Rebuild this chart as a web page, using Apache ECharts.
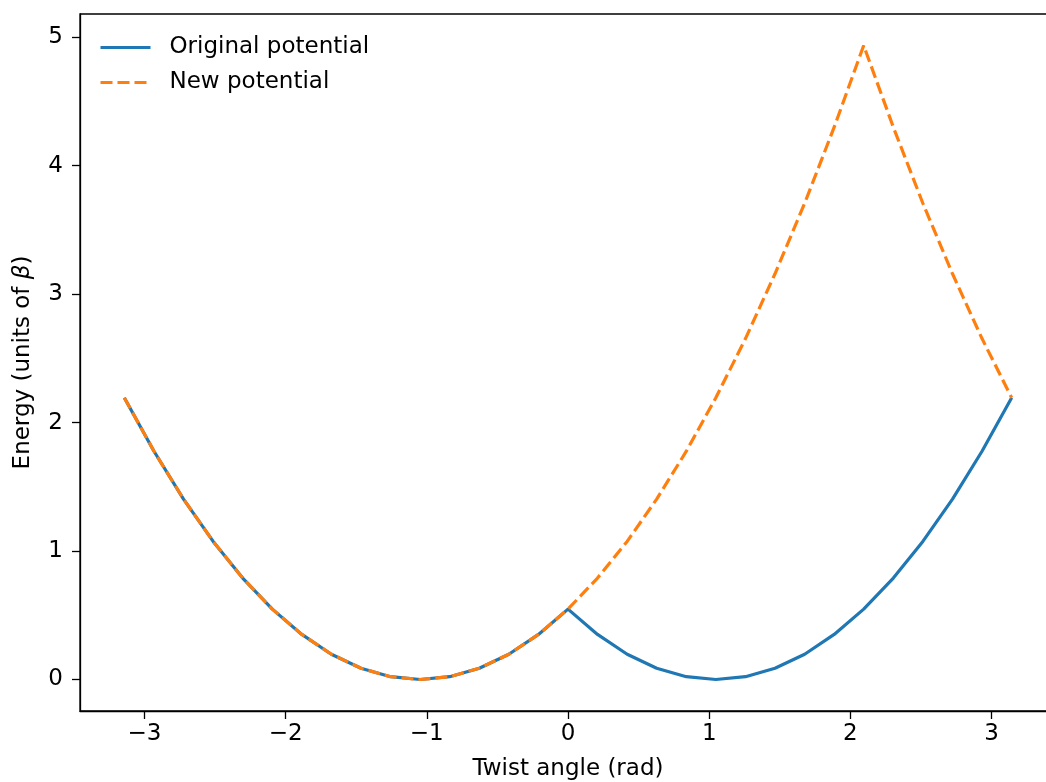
<!DOCTYPE html>
<html>
<head>
	<meta charset="utf-8">
	<title>Twist potential</title>
	<script src="https://cdn.jsdelivr.net/npm/echarts@6.0.0/dist/echarts.min.js"></script>
	<style>
		html, body { margin: 0; padding: 0; background: #fff; }
		#chart { width: 1046px; height: 782px; }
	</style>
</head>
<body>
	<div id="chart"></div>
	<script>
		// twist angle samples (rad)
		var angles = [-3.142, -2.932, -2.723, -2.513, -2.304, -2.094, -1.885, -1.676, -1.466, -1.257,
			-1.047, -0.838, -0.628, -0.419, -0.209, 0, 0.209, 0.419, 0.628, 0.838,
			1.047, 1.257, 1.466, 1.676, 1.885, 2.094, 2.304, 2.513, 2.723, 2.932, 3.142];
		var originalPot = [2.193, 1.777, 1.404, 1.075, 0.790, 0.548, 0.351, 0.197, 0.088, 0.022,
			0, 0.022, 0.088, 0.197, 0.351, 0.548, 0.351, 0.197, 0.088, 0.022,
			0, 0.022, 0.088, 0.197, 0.351, 0.548, 0.790, 1.075, 1.404, 1.777, 2.193];
		var newPot = [2.193, 1.777, 1.404, 1.075, 0.790, 0.548, 0.351, 0.197, 0.088, 0.022,
			0, 0.022, 0.088, 0.197, 0.351, 0.548, 0.790, 1.075, 1.404, 1.777,
			2.193, 2.654, 3.158, 3.707, 4.299, 4.935, 4.299, 3.707, 3.158, 2.654, 2.193];
		var xTicks = [-3, -2, -1, 0, 1, 2, 3];
		var yTicks = [0, 1, 2, 3, 4, 5];

		function pairs(xs, ys) {
			return xs.map(function (x, i) { return [x, ys[i]]; });
		}
		function minusFmt(v) {
			return String(v).replace('-', '\u2212');
		}

		var font = 'DejaVu Sans';
		var fs = 23;
		var chart = echarts.init(document.getElementById('chart'));
		var option = {
			animation: false,
			backgroundColor: '#fff',
			textStyle: { fontFamily: font, color: '#000' },
			grid: {
				left: 80, width: 976, top: 14, height: 697,
				outerBoundsMode: 'none',
				show: true, borderColor: '#000', borderWidth: 1.3
			},
			legend: {
				orient: 'vertical',
				left: 94, top: 31,
				itemWidth: 50, itemHeight: 14, itemGap: 12,
				itemStyle: { opacity: 0 },
				lineStyle: { width: 3 },
				textStyle: { fontFamily: font, fontSize: fs, color: '#000', padding: [0, 0, 0, 14] },
				data: ['Original potential', 'New potential']
			},
			xAxis: {
				type: 'value',
				min: -3.456, max: 3.456,
				name: 'Twist angle (rad)',
				nameLocation: 'middle',
				nameGap: 47,
				nameTextStyle: { fontFamily: font, fontSize: fs, color: '#000' },
				splitLine: { show: false },
				axisLine: { onZero: false, lineStyle: { color: '#000', width: 1.3 } },
				axisTick: { length: 8, lineStyle: { color: '#000', width: 1.3 }, customValues: xTicks },
				axisLabel: { fontFamily: font, fontSize: fs, color: '#000', margin: 12, customValues: xTicks, formatter: minusFmt }
			},
			yAxis: {
				type: 'value',
				min: -0.245, max: 5.18,
				name: 'Energy (units of {b|β})',
				nameLocation: 'middle',
				nameGap: 45,
				nameRotate: 90,
				nameTextStyle: {
					fontFamily: font, fontSize: fs, color: '#000',
					rich: { b: { fontFamily: font, fontSize: fs, fontStyle: 'italic', color: '#000' } }
				},
				splitLine: { show: false },
				axisLine: { show: true, onZero: false, lineStyle: { color: '#000', width: 1.3 } },
				axisTick: { show: true, length: 8, lineStyle: { color: '#000', width: 1.3 }, customValues: yTicks },
				axisLabel: { fontFamily: font, fontSize: fs, color: '#000', margin: 17, customValues: yTicks, formatter: minusFmt }
			},
			series: [
				{
					name: 'Original potential',
					type: 'line',
					data: pairs(angles, originalPot),
					symbol: 'none',
					color: '#1f77b4',
					lineStyle: { color: '#1f77b4', width: 3.2 }
				},
				{
					name: 'New potential',
					type: 'line',
					data: pairs(angles, newPot),
					symbol: 'none',
					color: '#ff7f0e',
					lineStyle: { color: '#ff7f0e', width: 3.2, type: [12, 5] }
				}
			]
		};
		chart.setOption(option);
	</script>
</body>
</html>
